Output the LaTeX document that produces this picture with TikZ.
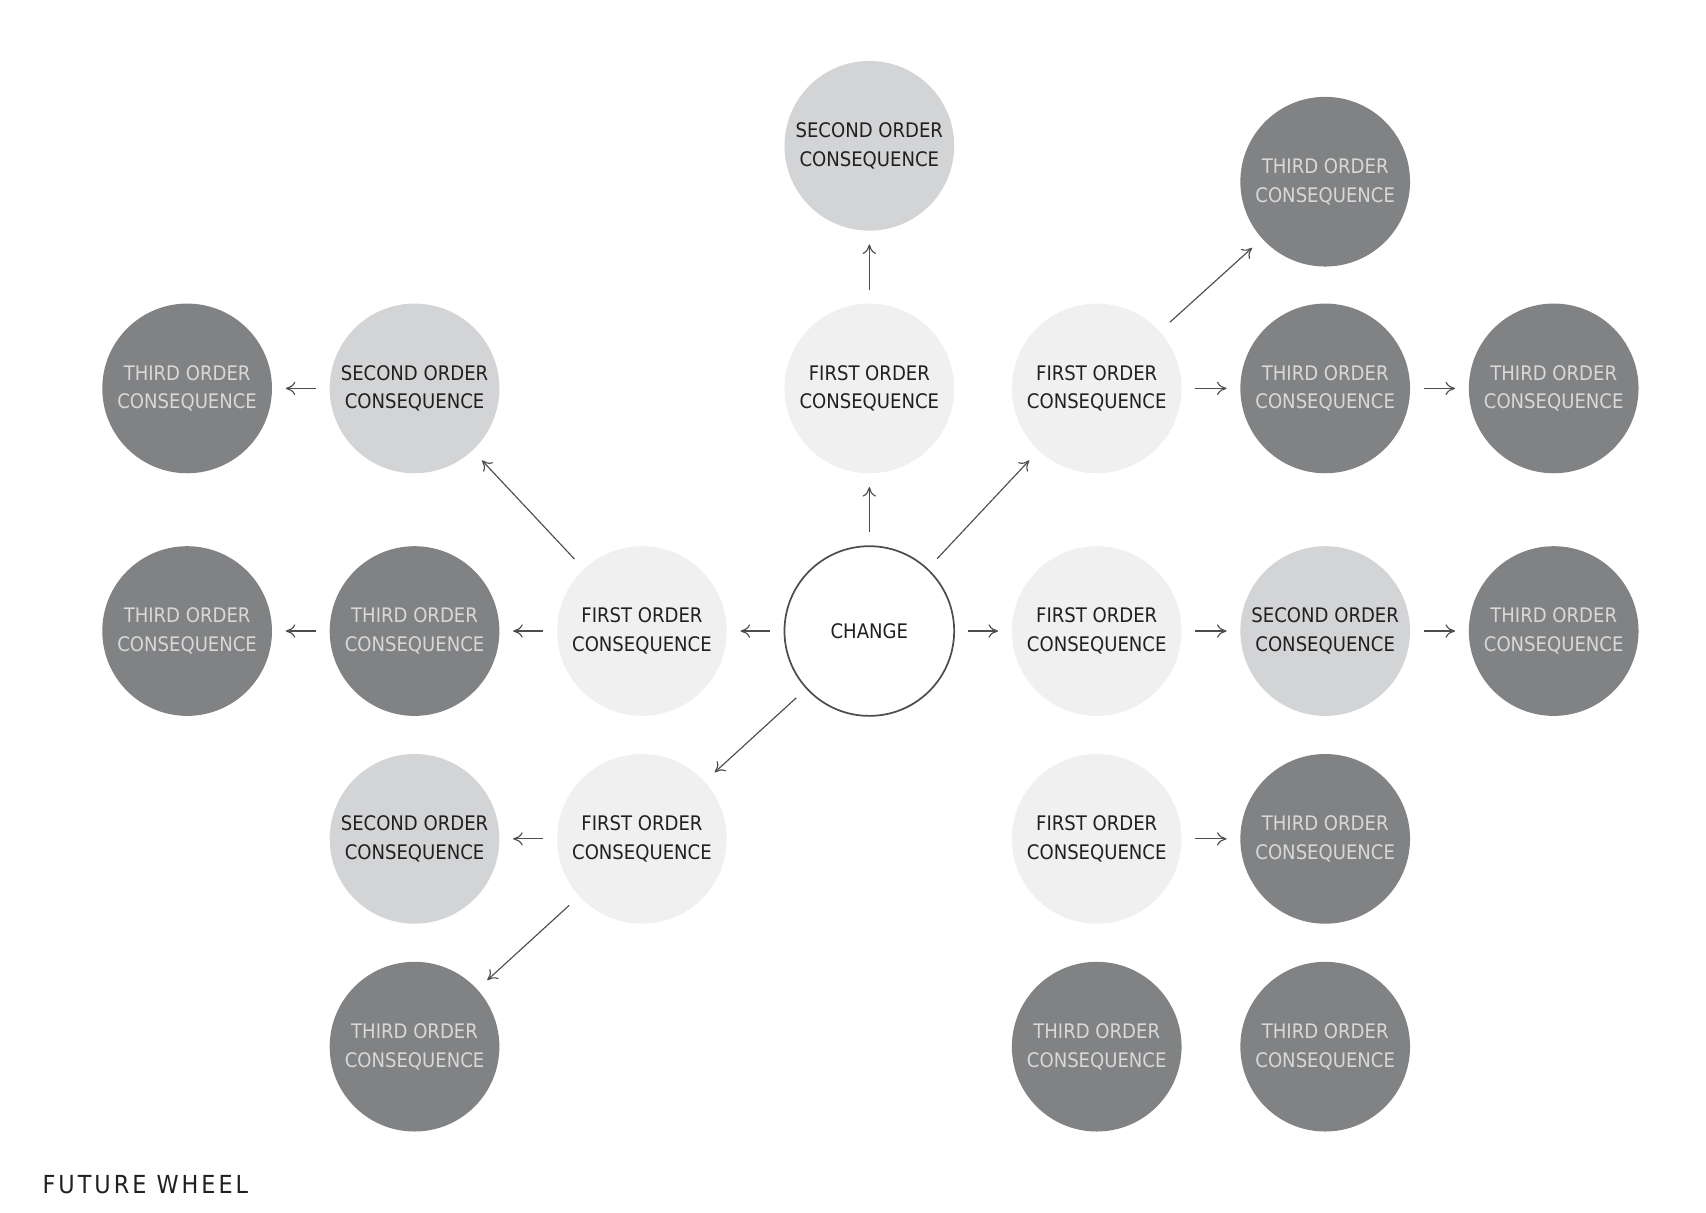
\documentclass[tikz,border=0pt]{standalone}
\usepackage{fontspec}
\setmainfont{DejaVu Sans Condensed}
\usetikzlibrary{arrows.meta,positioning}
\definecolor{firstc}{HTML}{F0F0F0}
\definecolor{secondc}{HTML}{D3D4D6}
\definecolor{thirdc}{HTML}{818284}
\definecolor{inkc}{HTML}{231F20}
\begin{document}
\begin{tikzpicture}[x=0.02cm,y=-0.02cm,
    cons/.style={circle, minimum size=3.12cm, inner sep=0pt, align=center,
    font=\fontsize{10.5}{15}\selectfont},
    first/.style={cons, fill=firstc, text=inkc},
    second/.style={cons, fill=secondc, text=inkc},
    third/.style={cons, fill=thirdc, text=firstc!90!black},
    change/.style={cons, draw=inkc!80, line width=0.9pt, fill=white, text=inkc},
    link/.style={-{To[length=5pt,width=7pt]}, draw=inkc!80, line width=0.6pt, shorten <=7pt, shorten >=7pt}]
    \useasboundingbox (0,0) rectangle (1568,1114);

    \node (change) [change] at (799,580) {CHANGE};

    % upper branch
    \node (firstUp) [first] at (799,357) {FIRST ORDER\\CONSEQUENCE};
    \node (secondUp) [second] at (799,134) {SECOND ORDER\\CONSEQUENCE};

    % right side
    \node (firstNE) [first] at (1008,357) {FIRST ORDER\\CONSEQUENCE};
    \node (thirdNEa) [third] at (1218,167) {THIRD ORDER\\CONSEQUENCE};
    \node (thirdNEb) [third] at (1218,357) {THIRD ORDER\\CONSEQUENCE};
    \node (thirdNEc) [third] at (1428,357) {THIRD ORDER\\CONSEQUENCE};
    \node (firstE) [first] at (1008,580) {FIRST ORDER\\CONSEQUENCE};
    \node (secondE) [second] at (1218,580) {SECOND ORDER\\CONSEQUENCE};
    \node (thirdE) [third] at (1428,580) {THIRD ORDER\\CONSEQUENCE};
    \node (firstSE) [first] at (1008,771) {FIRST ORDER\\CONSEQUENCE};
    \node (thirdSE) [third] at (1218,771) {THIRD ORDER\\CONSEQUENCE};
    \node (thirdSEa) [third] at (1008,962) {THIRD ORDER\\CONSEQUENCE};
    \node (thirdSEb) [third] at (1218,962) {THIRD ORDER\\CONSEQUENCE};

    % left side
    \node (firstW) [first] at (590,580) {FIRST ORDER\\CONSEQUENCE};
    \node (secondNW) [second] at (381,357) {SECOND ORDER\\CONSEQUENCE};
    \node (thirdNW) [third] at (172,357) {THIRD ORDER\\CONSEQUENCE};
    \node (thirdW) [third] at (381,580) {THIRD ORDER\\CONSEQUENCE};
    \node (thirdWW) [third] at (172,580) {THIRD ORDER\\CONSEQUENCE};
    \node (firstSW) [first] at (590,771) {FIRST ORDER\\CONSEQUENCE};
    \node (secondSW) [second] at (381,771) {SECOND ORDER\\CONSEQUENCE};
    \node (thirdSW) [third] at (381,962) {THIRD ORDER\\CONSEQUENCE};

    \node (title) [anchor=west, text=inkc, font=\fontsize{13}{15}\selectfont] at (33,1089)
        {\addfontfeature{LetterSpace=12}FUTURE WHEEL};

    \draw [link] (change) -- (firstUp);
    \draw [link] (firstUp) -- (secondUp);
    \draw [link] (change) -- (firstNE);
    \draw [link] (firstNE) -- (thirdNEa);
    \draw [link] (firstNE) -- (thirdNEb);
    \draw [link] (thirdNEb) -- (thirdNEc);
    \draw [link] (change) -- (firstE);
    \draw [link] (firstE) -- (secondE);
    \draw [link] (secondE) -- (thirdE);
    \draw [link] (firstSE) -- (thirdSE);
    \draw [link] (change) -- (firstW);
    \draw [link] (firstW) -- (secondNW);
    \draw [link] (secondNW) -- (thirdNW);
    \draw [link] (firstW) -- (thirdW);
    \draw [link] (thirdW) -- (thirdWW);
    \draw [link] (change) -- (firstSW);
    \draw [link] (firstSW) -- (secondSW);
    \draw [link] (firstSW) -- (thirdSW);
\end{tikzpicture}
\end{document}
